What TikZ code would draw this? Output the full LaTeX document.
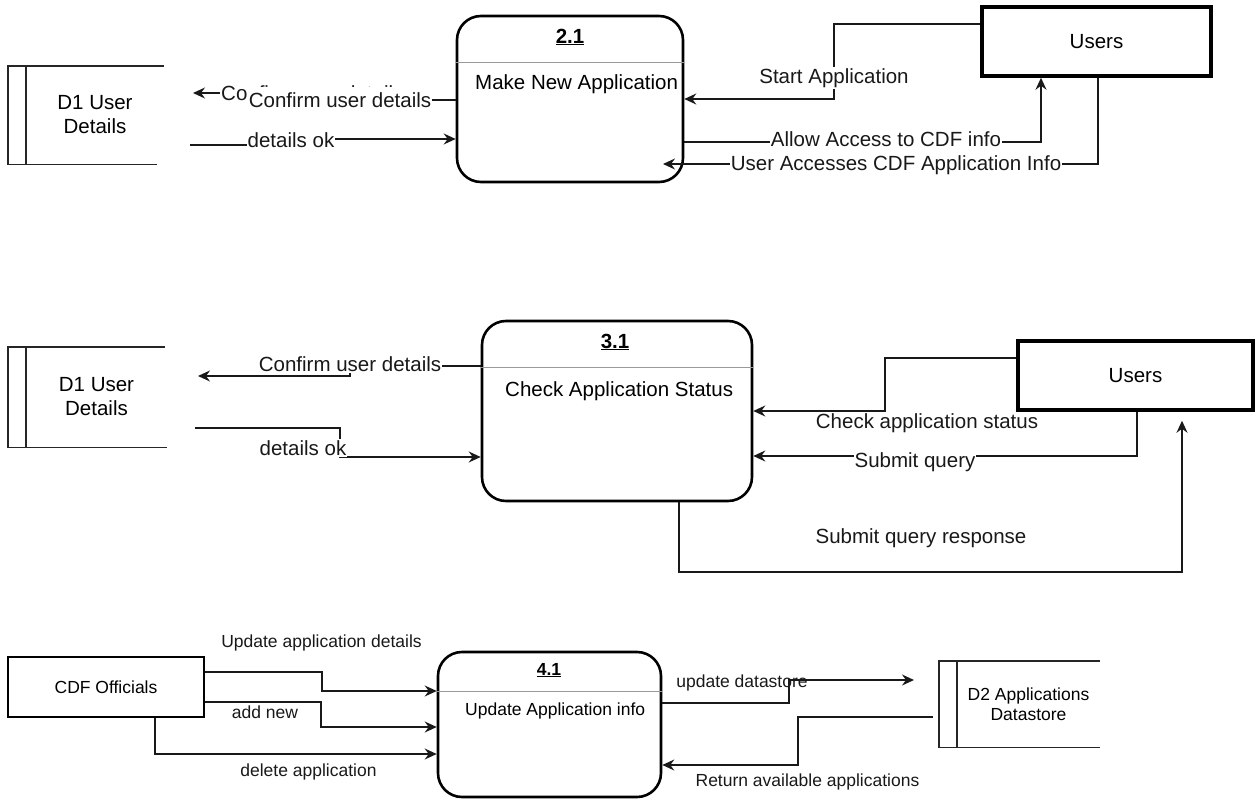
\documentclass[tikz,border=0pt]{standalone}
\usepackage{fontspec}
\setmainfont{Liberation Sans}
\usetikzlibrary{arrows.meta}
\newcommand\fA{\fontsize{20.5}{24}\selectfont}
\newcommand\fB{\fontsize{17.5}{20}\selectfont}
\begin{document}
\begin{tikzpicture}[x=1pt,y=-1pt,
  proc/.style={draw, rounded corners=24pt, line width=2.6pt},
  ext/.style={draw, line width=3.5pt},
  store/.style={draw, line width=1.4pt, black!85},
  sep/.style={draw, line width=1pt, black!40},
  conn/.style={draw, line width=1.4pt, black!90},
  arr/.style={conn, -{Stealth[length=12pt,width=11pt,inset=4pt]}},
  lbl/.style={inner sep=1pt, text=black!90},
  onl/.style={lbl, fill=white},
  ttl/.style={inner sep=0pt}]
\useasboundingbox (0,0) rectangle (1259,803);

% ---------------- Section 1 ----------------
\node[proc, minimum width=226pt, minimum height=166pt] (p21) at (570,99) {};
\draw[sep] (p21.west |- 0,62) -- (p21.east |- 0,62);
\node[ttl, font=\fA\bfseries] (t21) at (570,37) {\underline{2.1}};
\node[ttl, anchor=west, font=\fA] (n21) at (475,84) {Make New Application};

\node[ext, minimum width=229pt, minimum height=69pt, font=\fA] (u1) at (1096.5,41.5) {Users};

\node[font=\fA, align=center, minimum width=138pt, minimum height=98pt, inner sep=0pt] (d1a) at (95,115) {D1 User\\Details};
\draw[store] (d1a.north east) -- ([xshift=-18pt]d1a.north west) -- ([xshift=-18pt]d1a.south west) -- ([xshift=-7pt]d1a.south east);
\draw[store] (d1a.north west) -- (d1a.south west);

\coordinate (c1end) at (193,93);
\coordinate (c1start) at (190,145);
\draw[arr] (p21.west |- 0,100) -- (330,100) -- (330,93) -- (c1end);
\draw[arr] (c1start) -- (291,145) -- (291,139) -- (p21.west |- 0,139);
\draw[arr] (u1.west |- 0,24) -- (834,24) -- (834,99) -- (p21.east |- 0,99);
\draw[arr] (p21.east |- 0,142) -- (1041,142) -- (u1.south -| 1041,0);
\coordinate (c1acc) at (663,164);
\draw[arr] (u1.south -| 1098,0) -- (1098,164) -- (c1acc);

\node[onl, font=\fA, anchor=west] (l1a) at (220,93) {Confirm user details};
\node[onl, font=\fA, inner ysep=5pt] (l1b) at (340,100) {Confirm user details};
\node[onl, font=\fA] (l1c) at (291,140) {details ok};
\node[onl, font=\fA] (l1d) at (834,78) {Start Application};
\node[onl, font=\fA] (l1e) at (886,139) {Allow Access to CDF info};
\node[onl, font=\fA] (l1f) at (896,165) {User Accesses CDF Application Info};

% ---------------- Section 2 ----------------
\node[proc, minimum width=270pt, minimum height=180pt] (p31) at (617,411) {};
\draw[sep] (p31.west |- 0,367) -- (p31.east |- 0,367);
\node[ttl, font=\fA\bfseries] (t31) at (615,342) {\underline{3.1}};
\node[ttl, anchor=west, font=\fA] (n31) at (505,391) {Check Application Status};

\node[ext, minimum width=235pt, minimum height=69pt, font=\fA] (u2) at (1135.5,375.5) {Users};

\node[font=\fA, align=center, minimum width=141pt, minimum height=100pt, inner sep=0pt] (d1b) at (96.5,397) {D1 User\\Details};
\draw[store] ([xshift=-2pt]d1b.north east) -- ([xshift=-18pt]d1b.north west) -- ([xshift=-18pt]d1b.south west) -- (d1b.south east);
\draw[store] (d1b.north west) -- (d1b.south west);

\coordinate (c2end) at (198,376);
\coordinate (c2start) at (195,428);
\draw[arr] (p31.west |- 0,366) -- (350,366) -- (350,376) -- (c2end);
\draw[arr] (c2start) -- (340,428) -- (340,457) -- (p31.west |- 0,457);
\draw[arr] (u2.west |- 0,358) -- (885,358) -- (885,411) -- (p31.east |- 0,411);
\draw[arr] (u2.south -| 1137,0) -- (1137,456) -- (p31.east |- 0,456);
\draw[arr, shorten >=9pt] (p31.south -| 679,0) -- (679,572) -- (1182,572) -- (u2.south -| 1182,0);

\node[onl, font=\fA] (l2a) at (350,364) {Confirm user details};
\node[onl, font=\fA] (l2b) at (303,448) {details ok};
\node[lbl, font=\fA] (l2c) at (927,423) {Check application status};
\node[onl, font=\fA] (l2d) at (915,462) {Submit query};
\node[lbl, font=\fA] (l2e) at (921,538) {Submit query response};

% ---------------- Section 3 ----------------
\node[proc, minimum width=223pt, minimum height=145pt] (p41) at (549.5,724.5) {};
\draw[sep] (p41.west |- 0,691) -- (p41.east |- 0,691);
\node[ttl, font=\fB\bfseries] (t41) at (549,670) {\underline{4.1}};
\node[ttl, anchor=west, font=\fB] (n41) at (465,711) {Update Application info};

\node[draw, line width=2.5pt, minimum width=196pt, minimum height=60pt, font=\fB] (cdf) at (106,687) {CDF Officials};

\node[font=\fB, align=center, minimum width=143pt, minimum height=86pt, inner sep=0pt] (d2) at (1028.5,704) {D2 Applications\\Datastore};
\draw[store] (d2.north east) -- ([xshift=-18pt]d2.north west) -- ([xshift=-18pt]d2.south west) -- (d2.south east);
\draw[store] (d2.north west) -- (d2.south west);

\draw[arr] (cdf.east |- 0,672) -- (322,672) -- (322,691) -- (p41.west |- 0,691);
\draw[arr] (cdf.east |- 0,702) -- (321,702) -- (321,727) -- (p41.west |- 0,727);
\draw[arr] (cdf.south -| 155,0) -- (155,754) -- (p41.west |- 0,754);
\coordinate (c3upd) at (914,680);
\draw[arr] (p41.east |- 0,703) -- (789,703) -- (789,680) -- (c3upd);
\coordinate (c3ret) at (933,717);
\draw[arr] (c3ret) -- (798,717) -- (798,765) -- (p41.east |- 0,765);

\node[lbl, font=\fB] (l3a) at (321.5,643) {Update application details};
\node[lbl, font=\fB] (l3b) at (265,712) {add new};
\node[lbl, font=\fB] (l3c) at (308.5,772) {delete application};
\node[lbl, font=\fB] (l3d) at (742,683) {update datastore};
\node[lbl, font=\fB] (l3e) at (807.5,782) {Return available applications};
\end{tikzpicture}
\end{document}
